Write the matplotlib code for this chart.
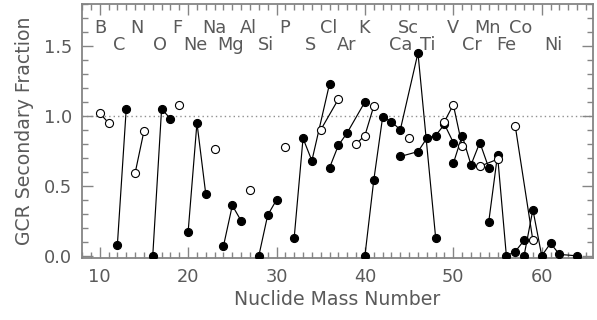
import matplotlib
matplotlib.use("Agg")
import matplotlib.pyplot as plt
from matplotlib.ticker import MultipleLocator, FormatStrFormatter

# ---- data -------------------------------------------------------------
elements = ['B', 'C', 'N', 'O', 'F', 'Ne', 'Na', 'Mg', 'Al', 'Si', 'P', 'S',
            'Cl', 'Ar', 'K', 'Ca', 'Sc', 'Ti', 'V', 'Cr', 'Mn', 'Fe', 'Co', 'Ni']
atomic_number = [5, 6, 7, 8, 9, 10, 11, 12, 13, 14, 15, 16,
                 17, 18, 19, 20, 21, 22, 23, 24, 25, 26, 27, 28]

nuclide_element = ['B', 'B', 'C', 'C', 'N', 'N', 'O', 'O', 'O', 'F',
                   'Ne', 'Ne', 'Ne', 'Na', 'Mg', 'Mg', 'Mg', 'Al',
                   'Si', 'Si', 'Si', 'P', 'S', 'S', 'S', 'S', 'Cl', 'Cl',
                   'Ar', 'Ar', 'Ar', 'Ar', 'K', 'K', 'K',
                   'Ca', 'Ca', 'Ca', 'Ca', 'Ca', 'Ca', 'Ca', 'Sc',
                   'Ti', 'Ti', 'Ti', 'Ti', 'Ti', 'Ti', 'V', 'V', 'V',
                   'Cr', 'Cr', 'Cr', 'Cr', 'Cr', 'Mn', 'Mn',
                   'Fe', 'Fe', 'Fe', 'Fe', 'Fe', 'Co', 'Co',
                   'Ni', 'Ni', 'Ni', 'Ni', 'Ni', 'Ni']
nuclide_mass = [10, 11, 12, 13, 14, 15, 16, 17, 18, 19,
                20, 21, 22, 23, 24, 25, 26, 27,
                28, 29, 30, 31, 32, 33, 34, 36, 35, 37,
                36, 37, 38, 40, 39, 40, 41,
                40, 41, 42, 43, 44, 46, 48, 45,
                44, 46, 47, 48, 49, 50, 49, 50, 51,
                50, 51, 52, 53, 54, 53, 55,
                54, 55, 56, 57, 58, 57, 59,
                58, 59, 60, 61, 62, 64]
secondary_fraction = [1.02, 0.95, 0.08, 1.05, 0.59, 0.89, 0.00, 1.05, 0.98, 1.08,
                      0.17, 0.95, 0.44, 0.76, 0.07, 0.36, 0.25, 0.47,
                      0.00, 0.29, 0.40, 0.78, 0.13, 0.84, 0.68, 1.23, 0.90, 1.12,
                      0.63, 0.79, 0.88, 1.10, 0.80, 0.86, 1.07,
                      0.00, 0.54, 0.99, 0.96, 0.90, 1.45, 0.13, 0.84,
                      0.71, 0.745, 0.84, 0.86, 0.94, 0.81, 0.96, 1.08, 0.785,
                      0.66, 0.86, 0.65, 0.81, 0.63, 0.64, 0.69,
                      0.24, 0.72, 0.00, 0.03, 0.11, 0.93, 0.11,
                      0.00, 0.33, 0.00, 0.09, 0.01, 0.00]

# element label positions on the mass-number axis
label_x = [10.1, 12.2, 14.2, 16.8, 18.8, 20.8, 23.0, 24.8, 26.8, 28.8, 30.9, 33.8,
           35.9, 37.9, 39.9, 44.1, 44.9, 47.1, 50.0, 52.1, 53.9, 56.0, 57.6, 61.3]

# ---- figure -----------------------------------------------------------
plt.rcParams['font.family'] = ['DejaVu Sans']
text_col = '#5a5a5a'
frame_col = '#858585'

fig = plt.figure(figsize=(5.97, 3.20), dpi=100)
ax = fig.add_axes([0.1374, 0.194, 0.8559, 0.7935])

ax.axhline(1.0, color='#909090', lw=1.0, ls=(0, (1, 2.2)), zorder=1)

for el, z in zip(elements, atomic_number):
    pts = [(m, f) for e, m, f in zip(nuclide_element, nuclide_mass, secondary_fraction) if e == el]
    xs = [p[0] for p in pts]
    ys = [p[1] for p in pts]
    filled = (z % 2 == 0)
    ax.plot(xs, ys, '-', color='black', lw=0.85, zorder=2)
    ax.plot(xs, ys, 'o', ms=5.8, mfc='black' if filled else 'white',
            mec='black', mew=0.8, zorder=3 if filled else 4, ls='none')

for i, (el, lx) in enumerate(zip(elements, label_x)):
    ly = 1.625 if i % 2 == 0 else 1.505
    ax.text(lx, ly, el, ha='center', va='center', fontsize=12.8, color=text_col)

ax.set_xlim(8, 65.8)
ax.set_ylim(-0.015, 1.8)
ax.xaxis.set_major_locator(MultipleLocator(10))
ax.xaxis.set_minor_locator(MultipleLocator(1))
ax.yaxis.set_major_locator(MultipleLocator(0.5))
ax.yaxis.set_minor_locator(MultipleLocator(0.1))
ax.yaxis.set_major_formatter(FormatStrFormatter('%.1f'))

ax.tick_params(which='both', direction='in', top=True, right=True,
               color=frame_col, labelcolor=text_col, labelsize=12.8, width=1.0)
ax.tick_params(which='major', length=8, pad=7)
ax.tick_params(which='minor', length=4.5)
for s in ax.spines.values():
    s.set_color(frame_col)
    s.set_linewidth(1.3)

ax.set_xlabel('Nuclide Mass Number', fontsize=13.6, color=text_col, labelpad=3)
ax.set_ylabel('GCR Secondary Fraction', fontsize=13.6, color=text_col, labelpad=7)

fig.savefig('out.png', dpi=100)
